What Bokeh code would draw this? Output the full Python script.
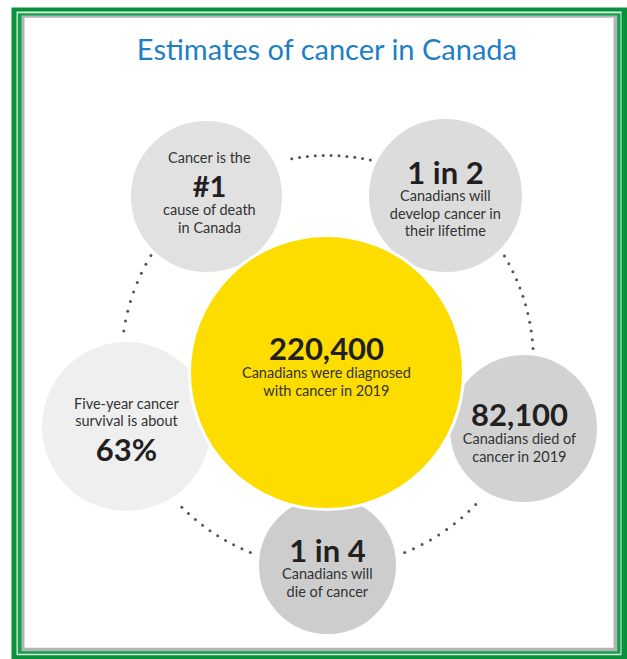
import numpy as np
from bokeh.plotting import figure
from bokeh.models import Range1d
from bokeh.core.properties import value
from bokeh.embed import file_html
from bokeh.resources import INLINE

# ---------------- data ----------------
title = "Estimates of cancer in Canada"
fact_keys = ["no1", "one_in_two", "diagnosed", "survival", "died", "one_in_four"]
headlines = ["#1", "1 in 2", "220,400", "63%", "82,100", "1 in 4"]
lines_before = [["Cancer is the"], [], [], ["Five-year cancer", "survival is about"], [], []]
lines_after = [["cause of death", "in Canada"],
               ["Canadians will", "develop cancer in", "their lifetime"],
               ["Canadians were diagnosed", "with cancer in 2019"],
               [],
               ["Canadians died of", "cancer in 2019"],
               ["Canadians will", "die of cancer"]]

# ---------------- layout / style ----------------
cx = [206, 445, 326, 126, 523, 327]
cy = [196, 195, 372, 426, 428, 565]
cr = [77, 78, 137, 86, 75, 70]
tx = [209, 445, 326, 126, 519, 327]
fills = ["#e1e1e2", "#dcdcdd", "#fddd00", "#efeff0", "#d2d2d3", "#cdcdce"]
head_y = [185, 171, 348, 448, 414, 549]
head_size = ["29px", "31px", "31px", "31px", "31px", "31px"]
line_gap = 17.5

W, H = 627, 659
p = figure(width=W, height=H, x_range=Range1d(0, W), y_range=Range1d(H, 0),
           output_backend="svg", toolbar_location=None, min_border=0)
p.axis.visible = False
p.grid.visible = False
p.outline_line_color = None
p.background_fill_color = "white"
p.border_fill_color = "white"

# frame
frame = [("#07913d", 11, 628, 7, 660), ("#d9efdd", 16, 621, 11, 654.7),
         ("#13a04a", 17.3, 620, 12.7, 653.3), ("#b4b4b4", 21, 616.7, 15, 650.7),
         ("#ffffff", 24, 613, 17.3, 647.3)]
for col, l, r, t, b in frame:
    p.quad(left=l, right=r, top=t, bottom=b, fill_color=col, line_color=None)

# dotted arcs
dcx, dcy, dR = 327, 361, 206
arcs = [(78, 100, 11), (149, 171.5, 9), (3.6, 30.8, 12), (225, 248, 10), (-68, -44, 10)]
dx, dy = [], []
for a0, a1, n in arcs:
    t = np.radians(np.linspace(a0, a1, n))
    dx += list(dcx + dR * np.cos(t))
    dy += list(dcy - dR * np.sin(t))
p.scatter(dx, dy, size=3, color="#555555", line_color=None)

# circles: gray ones first, yellow on top
order = [0, 1, 3, 4, 5, 2]
for i in order:
    p.circle(x=[cx[i]], y=[cy[i]], radius=cr[i], fill_color=fills[i],
             line_color="white", line_width=3)

# title
p.text(x=[327], y=[48], text=[title], text_font=value("Lato"), text_font_size="29px",
       text_color="#1f7fc4", text_align="center", text_baseline="middle")

# texts
for i in range(len(fact_keys)):
    p.text(x=[tx[i]], y=[head_y[i]], text=[headlines[i]],
           text_font=value("Lato"), text_font_style="bold", text_font_size=head_size[i],
           text_color="#231f20", text_align="center", text_baseline="middle")
    before = lines_before[i]
    for k, s in enumerate(before):
        yy = head_y[i] - 28 - (len(before) - 1 - k) * line_gap
        p.text(x=[tx[i]], y=[yy], text=[s], text_font=value("Lato"), text_font_size="14.5px",
               text_color="#333333", text_align="center", text_baseline="middle")
    for k, s in enumerate(lines_after[i]):
        yy = head_y[i] + 24 + k * line_gap
        p.text(x=[tx[i]], y=[yy], text=[s], text_font=value("Lato"), text_font_size="14.5px",
               text_color="#333333", text_align="center", text_baseline="middle")

open("out.html", "w").write(file_html(p, INLINE))
